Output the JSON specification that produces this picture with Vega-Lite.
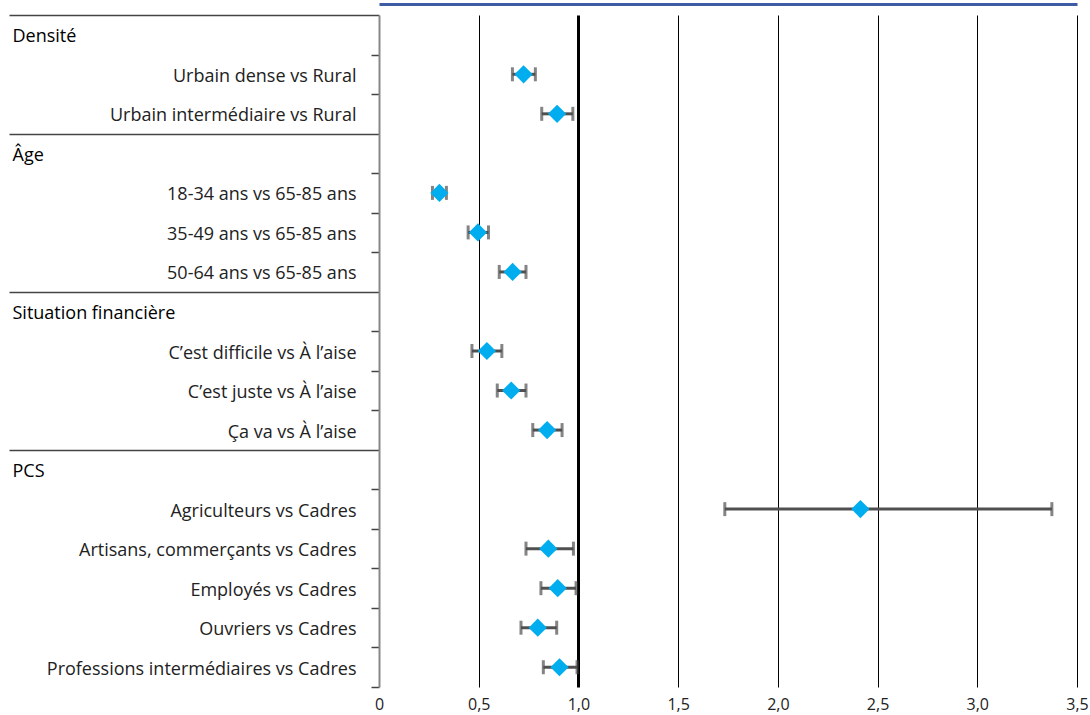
{
  "$schema": "https://vega.github.io/schema/vega-lite/v6.json",
  "autosize": {"type": "fit", "contains": "padding"},
  "width": 1090,
  "height": 715,
  "padding": {"left": 8, "top": 4, "right": 1, "bottom": 3},
  "background": "white",
  "config": {
    "view": {"stroke": null},
    "axis": {"labelFont": "Open Sans", "labelFontSize": 18, "labelColor": "#222"}
  },
  "data": {
    "values": [
      {"label": "Urbain dense vs Rural", "or": 0.725, "lo": 0.669, "hi": 0.784},
      {"label": "Urbain intermédiaire vs Rural", "or": 0.893, "lo": 0.816, "hi": 0.972},
      {"label": "18-34 ans vs 65-85 ans", "or": 0.303, "lo": 0.268, "hi": 0.338},
      {"label": "35-49 ans vs 65-85 ans", "or": 0.496, "lo": 0.447, "hi": 0.549},
      {"label": "50-64 ans vs 65-85 ans", "or": 0.670, "lo": 0.603, "hi": 0.737},
      {"label": "C’est difficile vs À l’aise", "or": 0.541, "lo": 0.466, "hi": 0.616},
      {"label": "C’est juste vs À l’aise", "or": 0.663, "lo": 0.593, "hi": 0.737},
      {"label": "Ça va vs À l’aise", "or": 0.843, "lo": 0.771, "hi": 0.918},
      {"label": "Agriculteurs vs Cadres", "or": 2.414, "lo": 1.734, "hi": 3.374},
      {"label": "Artisans, commerçants vs Cadres", "or": 0.849, "lo": 0.737, "hi": 0.975},
      {"label": "Employés vs Cadres", "or": 0.896, "lo": 0.812, "hi": 0.988},
      {"label": "Ouvriers vs Cadres", "or": 0.796, "lo": 0.712, "hi": 0.891},
      {"label": "Professions intermédiaires vs Cadres", "or": 0.905, "lo": 0.824, "hi": 0.993}
    ]
  },
  "encoding": {
    "y": {
      "field": "label",
      "type": "nominal",
      "title": null,
      "scale": {
        "domain": ["Densité", "Urbain dense vs Rural", "Urbain intermédiaire vs Rural",
                   "Âge", "18-34 ans vs 65-85 ans", "35-49 ans vs 65-85 ans", "50-64 ans vs 65-85 ans",
                   "Situation financière", "C’est difficile vs À l’aise", "C’est juste vs À l’aise", "Ça va vs À l’aise",
                   "PCS", "Agriculteurs vs Cadres", "Artisans, commerçants vs Cadres", "Employés vs Cadres", "Ouvriers vs Cadres", "Professions intermédiaires vs Cadres"],
        "paddingInner": 0,
        "paddingOuter": 0
      },
      "axis": {
        "tickBand": "extent",
        "domainColor": "#888",
        "domainWidth": 2,
        "tickColor": "#444",
        "tickWidth": 1.5,
        "grid": false,
        "tickSize": {
          "condition": {"test": "!isValid(datum.value) || indexof(['Urbain intermédiaire vs Rural','50-64 ans vs 65-85 ans','Ça va vs À l’aise'], datum.value) >= 0", "value": 370},
          "value": 8
        },
        "labelAlign": {
          "condition": {"test": "indexof(['Densité','Âge','Situation financière','PCS'], datum.value) >= 0", "value": "left"},
          "value": "right"
        },
        "labelColor": {
          "condition": {"test": "indexof(['Densité','Âge','Situation financière','PCS'], datum.value) >= 0", "value": "#000"},
          "value": "#222"
        },
        "labelPadding": {
          "condition": [
            {"test": "!isValid(datum.value)", "value": -360},
            {"test": "indexof(['Densité','Âge','Situation financière','PCS'], datum.value) >= 0", "value": 359},
            {"test": "indexof(['Urbain intermédiaire vs Rural','50-64 ans vs 65-85 ans','Ça va vs À l’aise'], datum.value) >= 0", "value": -347}
          ],
          "value": 15
        },
        "labelOffset": 2,
        "labelBaseline": "middle",
        "labelLimit": 400
      }
    }
  },
  "resolve": {"axis": {"x": "independent"}},
  "layer": [
    {
      "mark": {"type": "rule", "color": "#505050", "strokeWidth": 3},
      "encoding": {
        "x": {
          "field": "lo",
          "type": "quantitative",
          "title": null,
          "scale": {"domain": [0, 3.5], "nice": false, "zero": false},
          "axis": {
            "values": [0, 0.5, 1, 1.5, 2, 2.5, 3, 3.5],
            "domain": false,
            "ticks": false,
            "grid": true,
            "gridColor": "#000",
            "gridWidth": {"condition": {"test": "datum.value == 1", "value": 3}, "value": 1},
            "gridOpacity": {"condition": {"test": "datum.value == 0", "value": 0}, "value": 1},
            "labelFlush": false,
            "labelPadding": 9,
            "labelFontSize": 16,
            "labelExpr": "datum.value == 0 ? '0' : replace(format(datum.value, '.1f'), '.', ',')"
          }
        },
        "x2": {"field": "hi"}
      }
    },
    {
      "mark": {"type": "tick", "color": "#505050", "thickness": 3, "size": 14},
      "encoding": {"x": {"field": "lo", "type": "quantitative", "axis": null}}
    },
    {
      "mark": {"type": "tick", "color": "#505050", "thickness": 3, "size": 14},
      "encoding": {"x": {"field": "hi", "type": "quantitative", "axis": null}}
    },
    {
      "mark": {"type": "point", "shape": "diamond", "filled": true, "size": 330, "color": "#00AEEF", "opacity": 1},
      "encoding": {
        "x": {
          "field": "or",
          "type": "quantitative",
          "axis": {
            "orient": "top",
            "labels": false,
            "ticks": false,
            "grid": false,
            "title": null,
            "domainColor": "#3F5BA3",
            "domainWidth": 3,
            "offset": 11
          }
        }
      }
    }
  ]
}
